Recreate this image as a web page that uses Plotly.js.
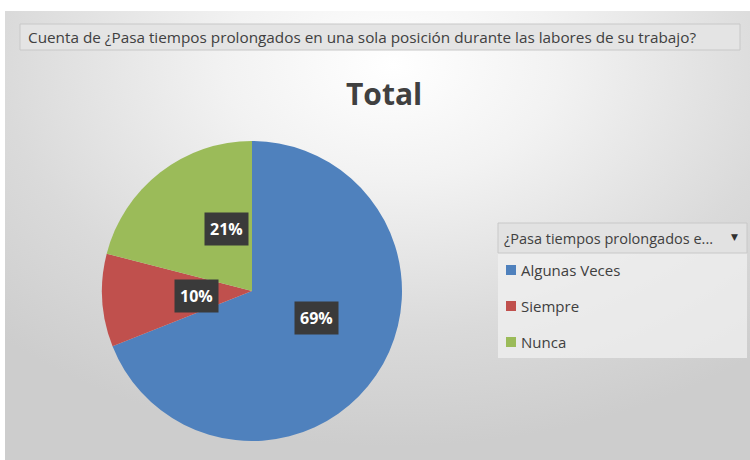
<!DOCTYPE html>
<html>
<head>
<meta charset="utf-8">
<script src="https://cdn.plot.ly/plotly-3.0.1.min.js"></script>
<style>
html,body{margin:0;padding:0;background:#fff;}
#wrap{position:relative;width:750px;height:460px;background:#fff;}
#bg{position:absolute;left:5px;top:11px;width:745px;height:449px;
 background:radial-gradient(ellipse 75% 85% at 52% 12%, #ffffff 0%, #f2f2f2 30%, #dadada 70%, #cdcdcd 100%);}
#chart{position:absolute;left:0;top:0;width:750px;height:460px;}
</style>
</head>
<body>
<div id="wrap"><div id="bg"></div><div id="chart"></div></div>
<script>
const categories = ["Algunas Veces", "Siempre", "Nunca"];
const values = [69, 10, 21];
const colors = ["#4f81bd", "#c0504d", "#9bbb59"];
const chartTitle = "Total";
const headerText = "Cuenta de ¿Pasa tiempos prolongados en una sola posición durante las labores de su trabajo?";
const legendTitle = "¿Pasa tiempos prolongados e...";

const W = 750, H = 460;
const cx = 252, cy = 291, R = 150;
const font = "Open Sans, Noto Sans, sans-serif";

const total = values.reduce((a, b) => a + b, 0);
const annotations = [];
const shapes = [];

// percentage labels computed from the data (clockwise from 12 o'clock)
let acc = 0;
values.forEach((v, i) => {
  const mid = (acc + v / 2) / total * 2 * Math.PI;
  acc += v;
  const px = cx + 0.52 * R * Math.sin(mid);
  const py = cy - 0.52 * R * Math.cos(mid);
  annotations.push({
    x: px / W, y: 1 - py / H, xref: "paper", yref: "paper",
    text: "<b>" + Math.round(v / total * 100) + "%</b>", showarrow: false,
    font: {family: font, size: 16, color: "#ffffff"},
    bgcolor: "#3a3a3a", borderpad: 5
  });
});

// header box
shapes.push({type: "rect", xref: "paper", yref: "paper",
  x0: 20 / W, x1: 740 / W, y0: 1 - 50 / H, y1: 1 - 24 / H,
  fillcolor: "#e4e4e4", line: {color: "#c8c8c8", width: 1}, layer: "below"});
annotations.push({x: 26 / W, y: 1 - 37 / H, xref: "paper", yref: "paper",
  xanchor: "left", yanchor: "middle", showarrow: false, text: headerText,
  font: {family: font, size: 15.3, color: "#404040"}});

// chart title
annotations.push({x: 384 / W, y: 1 - 93 / H, xref: "paper", yref: "paper",
  xanchor: "center", yanchor: "middle", showarrow: false, text: "<b>" + chartTitle + "</b>",
  font: {family: font, size: 30, color: "#404040"}});

// legend (drawn manually to match spacing)
shapes.push({type: "rect", xref: "paper", yref: "paper",
  x0: 498 / W, x1: 747 / W, y0: 1 - 358 / H, y1: 1 - 253 / H,
  fillcolor: "rgba(240,240,240,0.75)", line: {width: 0}, layer: "below"});
shapes.push({type: "rect", xref: "paper", yref: "paper",
  x0: 498 / W, x1: 747 / W, y0: 1 - 253 / H, y1: 1 - 223 / H,
  fillcolor: "#e2e2e2", line: {color: "#c8c8c8", width: 1}, layer: "below"});
annotations.push({x: 502 / W, y: 1 - 238 / H, xref: "paper", yref: "paper",
  xanchor: "left", yanchor: "middle", showarrow: false, text: legendTitle,
  font: {family: font, size: 14.5, color: "#404040"}});
annotations.push({x: 734 / W, y: 1 - 237 / H, xref: "paper", yref: "paper",
  xanchor: "center", yanchor: "middle", showarrow: false, text: "▼",
  font: {family: "DejaVu Sans, sans-serif", size: 9, color: "#303030"}});
categories.forEach((c, i) => {
  const yy = 270 + i * 36;
  shapes.push({type: "rect", xref: "paper", yref: "paper",
    x0: 506 / W, x1: 516 / W, y0: 1 - (yy + 5) / H, y1: 1 - (yy - 5) / H,
    fillcolor: colors[i], line: {width: 0}});
  annotations.push({x: 519 / W, y: 1 - yy / H, xref: "paper", yref: "paper",
    xanchor: "left", yanchor: "middle", showarrow: false, text: c,
    font: {family: font, size: 15, color: "#404040"}});
});

const trace = {
  type: "pie", labels: categories, values: values, sort: false,
  direction: "clockwise", rotation: 0,
  marker: {colors: colors, line: {width: 0}},
  textinfo: "none", hoverinfo: "label+percent",
  domain: {x: [(cx - R) / W, (cx + R) / W], y: [1 - (cy + R) / H, 1 - (cy - R) / H]}
};

const layout = {
  width: W, height: H, margin: {l: 0, r: 0, t: 0, b: 0},
  paper_bgcolor: "rgba(0,0,0,0)", plot_bgcolor: "rgba(0,0,0,0)",
  showlegend: false, annotations: annotations, shapes: shapes
};

Plotly.newPlot("chart", [trace], layout, {displayModeBar: false, staticPlot: true});
</script>
</body>
</html>
